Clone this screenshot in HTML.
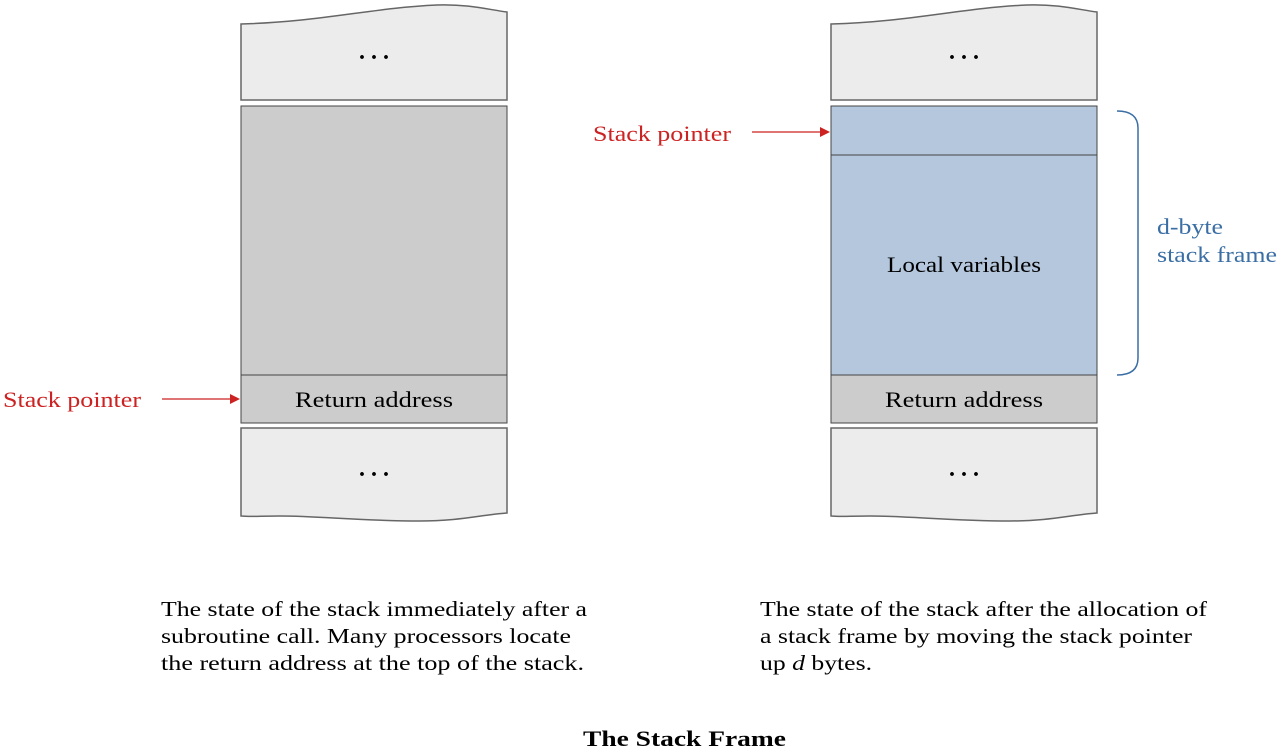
<!DOCTYPE html>
<html><head><meta charset="utf-8"><style>
body{margin:0;background:#fff;}
svg{display:block;font-family:"Liberation Serif",serif;}
</style></head><body>
<svg width="1284" height="751" viewBox="0 0 1284 751">
<g>
<path d="M241,24 C320,22 370,8 437,5 C470,4 490,10 507,12 L507,100 L241,100 Z" fill="#ececec" stroke="#666" stroke-width="1.5"/>
<text x="374" y="59" text-anchor="middle" font-size="24" font-weight="bold">. . .</text>
<rect x="241" y="106" width="266" height="269" fill="#cccccc" stroke="#444" stroke-width="1"/>
<rect x="241" y="375" width="266" height="48" fill="#cccccc" stroke="#444" stroke-width="1"/>
<text x="295" y="407" font-size="22" textLength="158" lengthAdjust="spacingAndGlyphs">Return address</text>
<path d="M241,428 L507,428 L507,513 C480,515 460,521 420,521 C360,521 320,516 280,516 C260,516 250,517 241,516 Z" fill="#ececec" stroke="#666" stroke-width="1.5"/>
<text x="374" y="476" text-anchor="middle" font-size="24" font-weight="bold">. . .</text>
<text x="3" y="407" font-size="22" fill="#cc2222" textLength="138" lengthAdjust="spacingAndGlyphs">Stack pointer</text>
<line x1="162" y1="399" x2="232" y2="399" stroke="#cc2222" stroke-width="1.2"/>
<path d="M240,399 L230,394 L230,404 Z" fill="#cc2222"/>
</g>
<g>
<path d="M831,24 C910,22 960,8 1027,5 C1060,4 1080,10 1097,12 L1097,100 L831,100 Z" fill="#ececec" stroke="#666" stroke-width="1.5"/>
<text x="964" y="59" text-anchor="middle" font-size="24" font-weight="bold">. . .</text>
<rect x="831" y="106" width="266" height="49" fill="#b4c7dd" stroke="#444" stroke-width="1"/>
<rect x="831" y="155" width="266" height="220" fill="#b4c7dd" stroke="#444" stroke-width="1"/>
<text x="887" y="272" font-size="22" textLength="154" lengthAdjust="spacingAndGlyphs">Local variables</text>
<rect x="831" y="375" width="266" height="48" fill="#cccccc" stroke="#444" stroke-width="1"/>
<text x="885" y="407" font-size="22" textLength="158" lengthAdjust="spacingAndGlyphs">Return address</text>
<path d="M831,428 L1097,428 L1097,513 C1070,515 1050,521 1010,521 C950,521 910,516 870,516 C850,516 840,517 831,516 Z" fill="#ececec" stroke="#666" stroke-width="1.5"/>
<text x="964" y="476" text-anchor="middle" font-size="24" font-weight="bold">. . .</text>
<text x="593" y="141" font-size="22" fill="#cc2222" textLength="138" lengthAdjust="spacingAndGlyphs">Stack pointer</text>
<line x1="752" y1="132" x2="822" y2="132" stroke="#cc2222" stroke-width="1.2"/>
<path d="M830,132 L820,127 L820,137 Z" fill="#cc2222"/>
<path d="M1117,111 C1130,111 1138,116 1138,128 L1138,358 C1138,370 1130,375 1117,375" fill="none" stroke="#3a6ea5" stroke-width="1.5"/>
<text x="1157" y="234" font-size="22" fill="#3a6ea5" textLength="66" lengthAdjust="spacingAndGlyphs">d-byte</text>
<text x="1157" y="262" font-size="22" fill="#3a6ea5" textLength="120" lengthAdjust="spacingAndGlyphs">stack frame</text>
</g>
<g font-size="21">
<text x="161" y="616" textLength="426" lengthAdjust="spacingAndGlyphs">The state of the stack immediately after a</text>
<text x="161" y="643" textLength="410" lengthAdjust="spacingAndGlyphs">subroutine call. Many processors locate</text>
<text x="161" y="670" textLength="423" lengthAdjust="spacingAndGlyphs">the return address at the top of the stack.</text>
</g>
<g font-size="21">
<text x="760" y="616" textLength="447" lengthAdjust="spacingAndGlyphs">The state of the stack after the allocation of</text>
<text x="760" y="643" textLength="432" lengthAdjust="spacingAndGlyphs">a stack frame by moving the stack pointer</text>
<text x="760" y="670" textLength="112" lengthAdjust="spacingAndGlyphs">up <tspan font-style="italic">d</tspan> bytes.</text>
</g>
<text x="583" y="746" font-size="22" font-weight="bold" textLength="203" lengthAdjust="spacingAndGlyphs">The Stack Frame</text>
</svg>
</body></html>
